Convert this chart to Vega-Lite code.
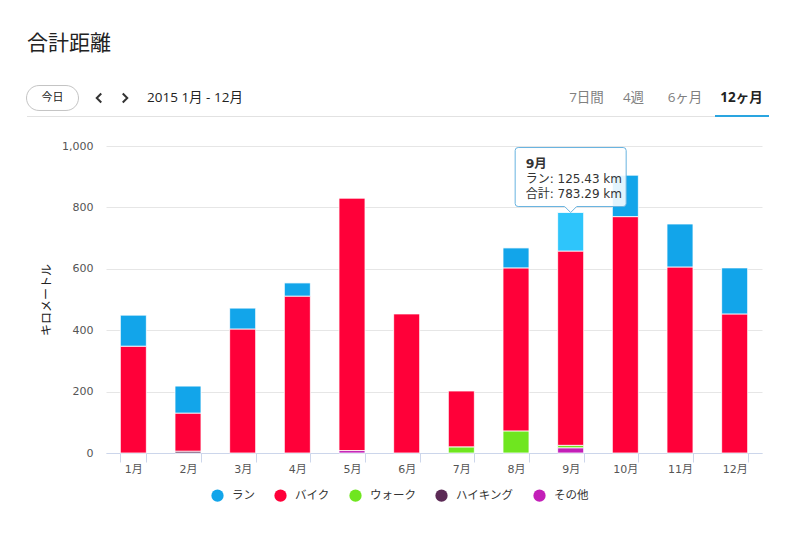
{
  "$schema": "https://vega.github.io/schema/vega-lite/v6.json",
  "width": 656,
  "height": 307,
  "autosize": {"type": "none"},
  "padding": {"left": 106, "top": 146, "right": 38, "bottom": 80},
  "background": "white",
  "title": {"text": "合計距離", "anchor": "start", "frame": "group", "dx": -79, "offset": 30, "fontSize": 21, "fontWeight": "normal", "color": "#222222", "font": "Noto Sans CJK JP"},
  "datasets": {
    "dist": [
      {"month": "1月", "type": "バイク", "km": 348}, {"month": "1月", "type": "ラン", "km": 101},
      {"month": "2月", "type": "ハイキング", "km": 6}, {"month": "2月", "type": "バイク", "km": 124}, {"month": "2月", "type": "ラン", "km": 88},
      {"month": "3月", "type": "バイク", "km": 404}, {"month": "3月", "type": "ラン", "km": 68},
      {"month": "4月", "type": "バイク", "km": 511}, {"month": "4月", "type": "ラン", "km": 43},
      {"month": "5月", "type": "その他", "km": 8}, {"month": "5月", "type": "バイク", "km": 822},
      {"month": "6月", "type": "バイク", "km": 453},
      {"month": "7月", "type": "ウォーク", "km": 20}, {"month": "7月", "type": "バイク", "km": 182},
      {"month": "8月", "type": "ウォーク", "km": 72}, {"month": "8月", "type": "バイク", "km": 531}, {"month": "8月", "type": "ラン", "km": 65},
      {"month": "9月", "type": "その他", "km": 17}, {"month": "9月", "type": "ウォーク", "km": 8}, {"month": "9月", "type": "バイク", "km": 632.86}, {"month": "9月", "type": "ラン", "km": 125.43},
      {"month": "10月", "type": "バイク", "km": 770}, {"month": "10月", "type": "ラン", "km": 135},
      {"month": "11月", "type": "バイク", "km": 606}, {"month": "11月", "type": "ラン", "km": 140},
      {"month": "12月", "type": "バイク", "km": 453}, {"month": "12月", "type": "ラン", "km": 150}
    ],
    "tip": [
      {"month": "9月", "total": 783.29, "head": "9月", "line1": "ラン: 125.43 km", "line2": "合計: 783.29 km"}
    ],
    "head": [
      {"item": "今日"}, {"item": "‹"}, {"item": "›"}, {"item": "2015 1月 - 12月"},
      {"item": "7日間"}, {"item": "4週"}, {"item": "6ヶ月"}, {"item": "12ヶ月"}
    ]
  },
  "layer": [
    {
      "data": {"name": "dist"},
      "mark": {"type": "bar", "stroke": "#ffffff", "strokeWidth": 1, "strokeOpacity": 0.8},
      "encoding": {
        "x": {
          "field": "month", "type": "nominal",
          "scale": {"domain": ["1月","2月","3月","4月","5月","6月","7月","8月","9月","10月","11月","12月"], "paddingInner": 0.524, "paddingOuter": 0.262},
          "axis": {"title": null, "labelAngle": 0, "domainColor": "#ccd6eb", "tickColor": "#ccd6eb", "tickSize": 9, "tickBand": "extent", "labelPadding": 1, "labelFontSize": 11, "labelColor": "#555555", "grid": false}
        },
        "y": {
          "aggregate": "sum", "field": "km", "type": "quantitative", "stack": "zero",
          "scale": {"domain": [0, 1000], "nice": false},
          "axis": {"title": "キロメートル", "values": [0, 200, 400, 600, 800, 1000], "format": ",d", "domain": false, "ticks": false, "labelPadding": 13, "labelFontSize": 11, "labelColor": "#555555", "gridColor": "#e6e6e6", "titleFontSize": 12, "titleFontWeight": "normal", "titleColor": "#222222", "titlePadding": 8}
        },
        "color": {
          "condition": {"test": "datum.month === '9月' && datum.type === 'ラン'", "value": "#2ec5fb"},
          "field": "type", "type": "nominal",
          "scale": {"domain": ["ラン", "バイク", "ウォーク", "ハイキング", "その他"], "range": ["#12a5ea", "#ff0039", "#6fe61f", "#5c2a56", "#c31fb8"]},
          "legend": {"title": null, "orient": "none", "direction": "horizontal", "legendX": 105, "legendY": 343, "symbolType": "circle", "symbolSize": 150, "symbolStrokeWidth": 0, "labelFontSize": 11.5, "labelColor": "#333333", "labelOffset": 8, "columnPadding": 19}
        },
        "order": {"field": "type", "sort": "ascending"}
      }
    },
    {
      "data": {"name": "tip"},
      "mark": {"type": "point", "shape": "M-0.75,-0.9286 L0.75,-0.9286 Q0.7929,-0.9286 0.7929,-0.8857 L0.7929,-0.1286 Q0.7929,-0.0857 0.75,-0.0857 L0.0857,-0.0857 L0,0 L-0.0857,-0.0857 L-0.75,-0.0857 Q-0.7929,-0.0857 -0.7929,-0.1286 L-0.7929,-0.8857 Q-0.7929,-0.9286 -0.75,-0.9286 Z", "size": 19600, "filled": true, "fill": "#ffffff", "fillOpacity": 0.88, "stroke": "#68b3e0", "strokeWidth": 1, "opacity": 1},
      "encoding": {
        "x": {"field": "month", "type": "nominal"},
        "y": {"field": "total", "type": "quantitative"}
      }
    },
    {
      "data": {"name": "tip"},
      "mark": {"type": "text", "align": "left", "baseline": "alphabetic", "dx": -45, "dy": -44.5, "fontSize": 12.5, "fontWeight": "bold", "color": "#333333"},
      "encoding": {
        "x": {"field": "month", "type": "nominal"},
        "y": {"field": "total", "type": "quantitative"},
        "text": {"field": "head"}
      }
    },
    {
      "data": {"name": "tip"},
      "mark": {"type": "text", "align": "left", "baseline": "alphabetic", "dx": -45, "dy": -29.5, "fontSize": 12, "color": "#333333"},
      "encoding": {
        "x": {"field": "month", "type": "nominal"},
        "y": {"field": "total", "type": "quantitative"},
        "text": {"field": "line1"}
      }
    },
    {
      "data": {"name": "tip"},
      "mark": {"type": "text", "align": "left", "baseline": "alphabetic", "dx": -45, "dy": -15, "fontSize": 12, "color": "#333333"},
      "encoding": {
        "x": {"field": "month", "type": "nominal"},
        "y": {"field": "total", "type": "quantitative"},
        "text": {"field": "line2"}
      }
    },
    {
      "data": {"name": "head"},
      "transform": [{"filter": "datum.item === '今日'"}],
      "mark": {"type": "rule", "stroke": "#e2e2e2", "strokeWidth": 1},
      "encoding": {"x": {"value": -79}, "x2": {"value": 662}, "y": {"value": -29.5}}
    },
    {
      "data": {"name": "head"},
      "transform": [{"filter": "datum.item === '12ヶ月'"}],
      "mark": {"type": "rule", "stroke": "#2aa5e0", "strokeWidth": 2},
      "encoding": {"x": {"value": 609}, "x2": {"value": 663}, "y": {"value": -30}}
    },
    {
      "data": {"name": "head"},
      "transform": [{"filter": "datum.item === '今日'"}],
      "mark": {"type": "point", "shape": "M-0.52,-0.48 L0.52,-0.48 A0.48,0.48 0 0 1 0.52,0.48 L-0.52,0.48 A0.48,0.48 0 0 1 -0.52,-0.48 Z", "size": 2704, "filled": true, "fill": "#ffffff", "stroke": "#c4c4c4", "strokeWidth": 1, "opacity": 1},
      "encoding": {"x": {"value": -53.5}, "y": {"value": -48}}
    },
    {
      "data": {"name": "head"},
      "transform": [{"filter": "datum.item === '今日'"}],
      "mark": {"type": "text", "align": "center", "baseline": "middle", "fontSize": 11, "color": "#222222", "font": "Noto Sans CJK JP"},
      "encoding": {"x": {"value": -53.5}, "y": {"value": -48}, "text": {"field": "item"}}
    },
    {
      "data": {"name": "head"},
      "transform": [{"filter": "datum.item === '‹'"}],
      "mark": {"type": "point", "shape": "M0.45,-0.9 L-0.45,0 L0.45,0.9", "size": 100, "filled": false, "stroke": "#333333", "strokeWidth": 2, "opacity": 1},
      "encoding": {"x": {"value": -7}, "y": {"value": -48}}
    },
    {
      "data": {"name": "head"},
      "transform": [{"filter": "datum.item === '›'"}],
      "mark": {"type": "point", "shape": "M-0.45,-0.9 L0.45,0 L-0.45,0.9", "size": 100, "filled": false, "stroke": "#333333", "strokeWidth": 2, "opacity": 1},
      "encoding": {"x": {"value": 19}, "y": {"value": -48}}
    },
    {
      "data": {"name": "head"},
      "transform": [{"filter": "datum.item === '2015 1月 - 12月'"}],
      "mark": {"type": "text", "align": "left", "baseline": "middle", "fontSize": 13.5, "color": "#222222", "font": "Open Sans, Noto Sans CJK JP"},
      "encoding": {"x": {"value": 41}, "y": {"value": -48}, "text": {"field": "item"}}
    },
    {
      "data": {"name": "head"},
      "transform": [{"filter": "datum.item === '7日間'"}],
      "mark": {"type": "text", "align": "center", "baseline": "middle", "fontSize": 13.5, "color": "#808080", "font": "Open Sans, Noto Sans CJK JP"},
      "encoding": {"x": {"value": 480.5}, "y": {"value": -48}, "text": {"field": "item"}}
    },
    {
      "data": {"name": "head"},
      "transform": [{"filter": "datum.item === '4週'"}],
      "mark": {"type": "text", "align": "center", "baseline": "middle", "fontSize": 13.5, "color": "#808080", "font": "Open Sans, Noto Sans CJK JP"},
      "encoding": {"x": {"value": 527.5}, "y": {"value": -48}, "text": {"field": "item"}}
    },
    {
      "data": {"name": "head"},
      "transform": [{"filter": "datum.item === '6ヶ月'"}],
      "mark": {"type": "text", "align": "center", "baseline": "middle", "fontSize": 13.5, "color": "#808080", "font": "Open Sans, Noto Sans CJK JP"},
      "encoding": {"x": {"value": 579}, "y": {"value": -48}, "text": {"field": "item"}}
    },
    {
      "data": {"name": "head"},
      "transform": [{"filter": "datum.item === '12ヶ月'"}],
      "mark": {"type": "text", "align": "center", "baseline": "middle", "fontSize": 13.5, "fontWeight": "bold", "color": "#222222", "font": "Open Sans, Noto Sans CJK JP"},
      "encoding": {"x": {"value": 635.5}, "y": {"value": -48}, "text": {"field": "item"}}
    }
  ],
  "config": {
    "view": {"stroke": null},
    "font": "DejaVu Sans, Noto Sans CJK JP",
    "axis": {"labelFont": "DejaVu Sans, Noto Sans CJK JP", "titleFont": "Noto Sans CJK JP"},
    "legend": {"labelFont": "DejaVu Sans, Noto Sans CJK JP"}
  }
}
